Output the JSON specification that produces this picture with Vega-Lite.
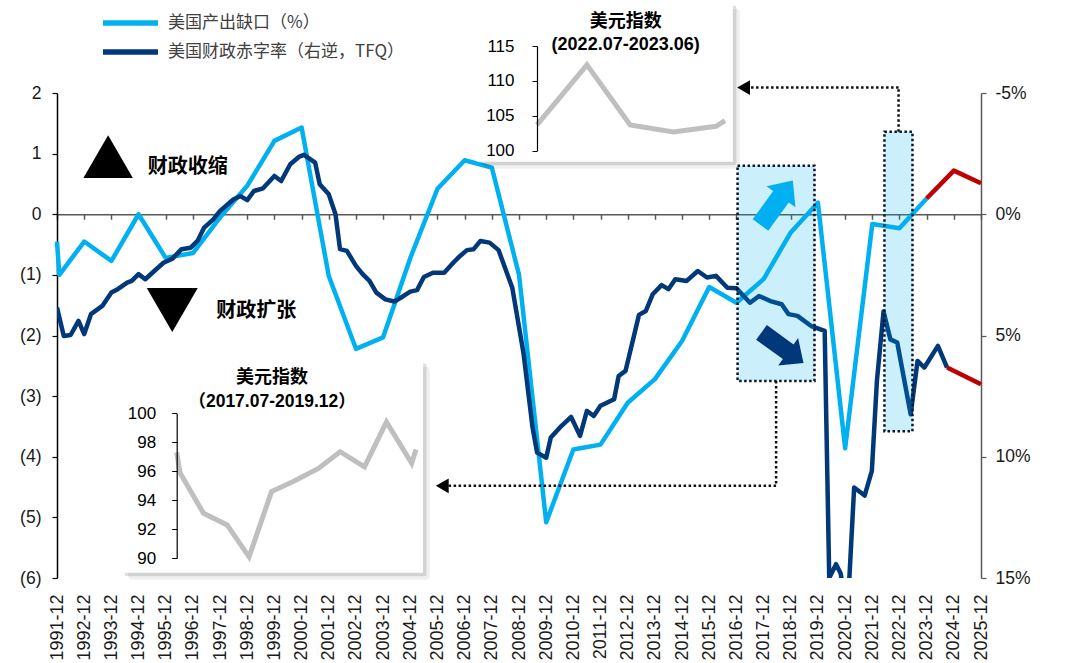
{
  "$schema": "https://vega.github.io/schema/vega-lite/v6.json",
  "width": 924,
  "height": 485,
  "autosize": {"type": "none"},
  "padding": {"left": 57, "top": 93, "right": 87, "bottom": 85},
  "background": "white",
  "config": {
    "view": {"stroke": null},
    "axis": {"grid": false, "labelFont": "Liberation Sans", "labelColor": "#1a1a1a", "title": null, "labelOverlap": false},
    "legend": {"labelFont": "Noto Sans CJK SC"}
  },
  "datasets": {
    "gap": [
      {"date": "1991-12-01", "value": -0.45, "series": "美国产出缺口（%）", "part": "actual"},
      {"date": "1992-01-01", "value": -1.0, "series": "美国产出缺口（%）", "part": "actual"},
      {"date": "1992-12-01", "value": -0.45, "series": "美国产出缺口（%）", "part": "actual"},
      {"date": "1993-12-01", "value": -0.77, "series": "美国产出缺口（%）", "part": "actual"},
      {"date": "1994-12-01", "value": 0.0, "series": "美国产出缺口（%）", "part": "actual"},
      {"date": "1995-12-01", "value": -0.72, "series": "美国产出缺口（%）", "part": "actual"},
      {"date": "1996-12-01", "value": -0.64, "series": "美国产出缺口（%）", "part": "actual"},
      {"date": "1997-12-01", "value": -0.05, "series": "美国产出缺口（%）", "part": "actual"},
      {"date": "1998-12-01", "value": 0.47, "series": "美国产出缺口（%）", "part": "actual"},
      {"date": "1999-12-01", "value": 1.21, "series": "美国产出缺口（%）", "part": "actual"},
      {"date": "2000-12-01", "value": 1.43, "series": "美国产出缺口（%）", "part": "actual"},
      {"date": "2001-12-01", "value": -1.02, "series": "美国产出缺口（%）", "part": "actual"},
      {"date": "2002-12-01", "value": -2.22, "series": "美国产出缺口（%）", "part": "actual"},
      {"date": "2003-12-01", "value": -2.03, "series": "美国产出缺口（%）", "part": "actual"},
      {"date": "2004-12-01", "value": -0.72, "series": "美国产出缺口（%）", "part": "actual"},
      {"date": "2005-12-01", "value": 0.42, "series": "美国产出缺口（%）", "part": "actual"},
      {"date": "2006-12-01", "value": 0.89, "series": "美国产出缺口（%）", "part": "actual"},
      {"date": "2007-12-01", "value": 0.77, "series": "美国产出缺口（%）", "part": "actual"},
      {"date": "2008-12-01", "value": -1.0, "series": "美国产出缺口（%）", "part": "actual"},
      {"date": "2009-12-01", "value": -5.08, "series": "美国产出缺口（%）", "part": "actual"},
      {"date": "2010-12-01", "value": -3.88, "series": "美国产出缺口（%）", "part": "actual"},
      {"date": "2011-12-01", "value": -3.8, "series": "美国产出缺口（%）", "part": "actual"},
      {"date": "2012-12-01", "value": -3.11, "series": "美国产出缺口（%）", "part": "actual"},
      {"date": "2013-12-01", "value": -2.72, "series": "美国产出缺口（%）", "part": "actual"},
      {"date": "2014-12-01", "value": -2.09, "series": "美国产出缺口（%）", "part": "actual"},
      {"date": "2015-12-01", "value": -1.2, "series": "美国产出缺口（%）", "part": "actual"},
      {"date": "2016-12-01", "value": -1.46, "series": "美国产出缺口（%）", "part": "actual"},
      {"date": "2017-12-01", "value": -1.07, "series": "美国产出缺口（%）", "part": "actual"},
      {"date": "2018-12-01", "value": -0.3, "series": "美国产出缺口（%）", "part": "actual"},
      {"date": "2019-12-01", "value": 0.19, "series": "美国产出缺口（%）", "part": "actual"},
      {"date": "2020-12-01", "value": -3.86, "series": "美国产出缺口（%）", "part": "actual"},
      {"date": "2021-12-01", "value": -0.16, "series": "美国产出缺口（%）", "part": "actual"},
      {"date": "2022-12-01", "value": -0.23, "series": "美国产出缺口（%）", "part": "actual"},
      {"date": "2023-12-01", "value": 0.26, "series": "美国产出缺口（%）", "part": "actual"},
      {"date": "2023-12-01", "value": 0.26, "series": "美国产出缺口（%）", "part": "forecast"},
      {"date": "2024-12-01", "value": 0.72, "series": "美国产出缺口（%）", "part": "forecast"},
      {"date": "2025-12-01", "value": 0.51, "series": "美国产出缺口（%）", "part": "forecast"}
    ],
    "deficit": [
      {"date": "1991-12-01", "value": 3.85, "series": "美国财政赤字率（右逆，TFQ）", "part": "actual"},
      {"date": "1992-03-01", "value": 5.02, "series": "美国财政赤字率（右逆，TFQ）", "part": "actual"},
      {"date": "1992-06-01", "value": 4.98, "series": "美国财政赤字率（右逆，TFQ）", "part": "actual"},
      {"date": "1992-09-15", "value": 4.4, "series": "美国财政赤字率（右逆，TFQ）", "part": "actual"},
      {"date": "1992-12-01", "value": 4.94, "series": "美国财政赤字率（右逆，TFQ）", "part": "actual"},
      {"date": "1993-03-01", "value": 4.12, "series": "美国财政赤字率（右逆，TFQ）", "part": "actual"},
      {"date": "1993-08-01", "value": 3.78, "series": "美国财政赤字率（右逆，TFQ）", "part": "actual"},
      {"date": "1993-12-01", "value": 3.23, "series": "美国财政赤字率（右逆，TFQ）", "part": "actual"},
      {"date": "1994-03-01", "value": 3.08, "series": "美国财政赤字率（右逆，TFQ）", "part": "actual"},
      {"date": "1994-07-01", "value": 2.82, "series": "美国财政赤字率（右逆，TFQ）", "part": "actual"},
      {"date": "1994-09-01", "value": 2.75, "series": "美国财政赤字率（右逆，TFQ）", "part": "actual"},
      {"date": "1994-12-01", "value": 2.47, "series": "美国财政赤字率（右逆，TFQ）", "part": "actual"},
      {"date": "1995-03-01", "value": 2.68, "series": "美国财政赤字率（右逆，TFQ）", "part": "actual"},
      {"date": "1995-07-01", "value": 2.34, "series": "美国财政赤字率（右逆，TFQ）", "part": "actual"},
      {"date": "1995-11-01", "value": 2.0, "series": "美国财政赤字率（右逆，TFQ）", "part": "actual"},
      {"date": "1996-03-01", "value": 1.83, "series": "美国财政赤字率（右逆，TFQ）", "part": "actual"},
      {"date": "1996-07-01", "value": 1.44, "series": "美国财政赤字率（右逆，TFQ）", "part": "actual"},
      {"date": "1996-11-01", "value": 1.38, "series": "美国财政赤字率（右逆，TFQ）", "part": "actual"},
      {"date": "1997-02-01", "value": 1.1, "series": "美国财政赤字率（右逆，TFQ）", "part": "actual"},
      {"date": "1997-05-01", "value": 0.55, "series": "美国财政赤字率（右逆，TFQ）", "part": "actual"},
      {"date": "1997-09-01", "value": 0.21, "series": "美国财政赤字率（右逆，TFQ）", "part": "actual"},
      {"date": "1997-12-01", "value": -0.14, "series": "美国财政赤字率（右逆，TFQ）", "part": "actual"},
      {"date": "1998-06-01", "value": -0.62, "series": "美国财政赤字率（右逆，TFQ）", "part": "actual"},
      {"date": "1998-09-01", "value": -0.75, "series": "美国财政赤字率（右逆，TFQ）", "part": "actual"},
      {"date": "1998-12-01", "value": -0.58, "series": "美国财政赤字率（右逆，TFQ）", "part": "actual"},
      {"date": "1999-03-01", "value": -0.96, "series": "美国财政赤字率（右逆，TFQ）", "part": "actual"},
      {"date": "1999-07-01", "value": -1.07, "series": "美国财政赤字率（右逆，TFQ）", "part": "actual"},
      {"date": "1999-12-01", "value": -1.58, "series": "美国财政赤字率（右逆，TFQ）", "part": "actual"},
      {"date": "2000-03-01", "value": -1.37, "series": "美国财政赤字率（右逆，TFQ）", "part": "actual"},
      {"date": "2000-07-01", "value": -2.06, "series": "美国财政赤字率（右逆，TFQ）", "part": "actual"},
      {"date": "2000-11-01", "value": -2.38, "series": "美国财政赤字率（右逆，TFQ）", "part": "actual"},
      {"date": "2001-01-01", "value": -2.45, "series": "美国财政赤字率（右逆，TFQ）", "part": "actual"},
      {"date": "2001-06-01", "value": -2.13, "series": "美国财政赤字率（右逆，TFQ）", "part": "actual"},
      {"date": "2001-08-01", "value": -1.24, "series": "美国财政赤字率（右逆，TFQ）", "part": "actual"},
      {"date": "2001-12-01", "value": -0.82, "series": "美国财政赤字率（右逆，TFQ）", "part": "actual"},
      {"date": "2002-03-01", "value": 0.0, "series": "美国财政赤字率（右逆，TFQ）", "part": "actual"},
      {"date": "2002-05-01", "value": 1.44, "series": "美国财政赤字率（右逆，TFQ）", "part": "actual"},
      {"date": "2002-08-01", "value": 1.51, "series": "美国财政赤字率（右逆，TFQ）", "part": "actual"},
      {"date": "2002-12-01", "value": 2.13, "series": "美国财政赤字率（右逆，TFQ）", "part": "actual"},
      {"date": "2003-03-01", "value": 2.47, "series": "美国财政赤字率（右逆，TFQ）", "part": "actual"},
      {"date": "2003-06-01", "value": 2.75, "series": "美国财政赤字率（右逆，TFQ）", "part": "actual"},
      {"date": "2003-09-01", "value": 3.23, "series": "美国财政赤字率（右逆，TFQ）", "part": "actual"},
      {"date": "2004-01-01", "value": 3.51, "series": "美国财政赤字率（右逆，TFQ）", "part": "actual"},
      {"date": "2004-05-01", "value": 3.6, "series": "美国财政赤字率（右逆，TFQ）", "part": "actual"},
      {"date": "2004-09-01", "value": 3.37, "series": "美国财政赤字率（右逆，TFQ）", "part": "actual"},
      {"date": "2004-12-01", "value": 3.19, "series": "美国财政赤字率（右逆，TFQ）", "part": "actual"},
      {"date": "2005-03-01", "value": 3.13, "series": "美国财政赤字率（右逆，TFQ）", "part": "actual"},
      {"date": "2005-06-01", "value": 2.59, "series": "美国财政赤字率（右逆，TFQ）", "part": "actual"},
      {"date": "2005-10-01", "value": 2.41, "series": "美国财政赤字率（右逆，TFQ）", "part": "actual"},
      {"date": "2006-03-01", "value": 2.41, "series": "美国财政赤字率（右逆，TFQ）", "part": "actual"},
      {"date": "2006-07-01", "value": 2.0, "series": "美国财政赤字率（右逆，TFQ）", "part": "actual"},
      {"date": "2006-10-01", "value": 1.72, "series": "美国财政赤字率（右逆，TFQ）", "part": "actual"},
      {"date": "2007-01-01", "value": 1.48, "series": "美国财政赤字率（右逆，TFQ）", "part": "actual"},
      {"date": "2007-04-01", "value": 1.44, "series": "美国财政赤字率（右逆，TFQ）", "part": "actual"},
      {"date": "2007-07-01", "value": 1.1, "series": "美国财政赤字率（右逆，TFQ）", "part": "actual"},
      {"date": "2007-11-01", "value": 1.17, "series": "美国财政赤字率（右逆，TFQ）", "part": "actual"},
      {"date": "2008-03-01", "value": 1.48, "series": "美国财政赤字率（右逆，TFQ）", "part": "actual"},
      {"date": "2008-09-01", "value": 3.03, "series": "美国财政赤字率（右逆，TFQ）", "part": "actual"},
      {"date": "2009-02-01", "value": 5.77, "series": "美国财政赤字率（右逆，TFQ）", "part": "actual"},
      {"date": "2009-06-01", "value": 8.8, "series": "美国财政赤字率（右逆，TFQ）", "part": "actual"},
      {"date": "2009-08-01", "value": 9.83, "series": "美国财政赤字率（右逆，TFQ）", "part": "actual"},
      {"date": "2009-12-01", "value": 10.04, "series": "美国财政赤字率（右逆，TFQ）", "part": "actual"},
      {"date": "2010-02-01", "value": 9.21, "series": "美国财政赤字率（右逆，TFQ）", "part": "actual"},
      {"date": "2010-06-01", "value": 8.8, "series": "美国财政赤字率（右逆，TFQ）", "part": "actual"},
      {"date": "2010-11-01", "value": 8.36, "series": "美国财政赤字率（右逆，TFQ）", "part": "actual"},
      {"date": "2011-03-01", "value": 9.14, "series": "美国财政赤字率（右逆，TFQ）", "part": "actual"},
      {"date": "2011-06-01", "value": 8.11, "series": "美国财政赤字率（右逆，TFQ）", "part": "actual"},
      {"date": "2011-09-01", "value": 8.32, "series": "美国财政赤字率（右逆，TFQ）", "part": "actual"},
      {"date": "2011-12-01", "value": 7.9, "series": "美国财政赤字率（右逆，TFQ）", "part": "actual"},
      {"date": "2012-06-01", "value": 7.63, "series": "美国财政赤字率（右逆，TFQ）", "part": "actual"},
      {"date": "2012-08-01", "value": 6.67, "series": "美国财政赤字率（右逆，TFQ）", "part": "actual"},
      {"date": "2012-11-01", "value": 6.46, "series": "美国财政赤字率（右逆，TFQ）", "part": "actual"},
      {"date": "2013-02-01", "value": 5.29, "series": "美国财政赤字率（右逆，TFQ）", "part": "actual"},
      {"date": "2013-05-01", "value": 4.15, "series": "美国财政赤字率（右逆，TFQ）", "part": "actual"},
      {"date": "2013-08-01", "value": 3.99, "series": "美国财政赤字率（右逆，TFQ）", "part": "actual"},
      {"date": "2013-11-01", "value": 3.3, "series": "美国财政赤字率（右逆，TFQ）", "part": "actual"},
      {"date": "2014-03-01", "value": 2.92, "series": "美国财政赤字率（右逆，TFQ）", "part": "actual"},
      {"date": "2014-06-01", "value": 3.09, "series": "美国财政赤字率（右逆，TFQ）", "part": "actual"},
      {"date": "2014-09-01", "value": 2.68, "series": "美国财政赤字率（右逆，TFQ）", "part": "actual"},
      {"date": "2015-02-01", "value": 2.75, "series": "美国财政赤字率（右逆，TFQ）", "part": "actual"},
      {"date": "2015-07-01", "value": 2.34, "series": "美国财政赤字率（右逆，TFQ）", "part": "actual"},
      {"date": "2015-11-01", "value": 2.61, "series": "美国财政赤字率（右逆，TFQ）", "part": "actual"},
      {"date": "2016-03-01", "value": 2.54, "series": "美国财政赤字率（右逆，TFQ）", "part": "actual"},
      {"date": "2016-08-01", "value": 3.03, "series": "美国财政赤字率（右逆，TFQ）", "part": "actual"},
      {"date": "2016-12-01", "value": 3.05, "series": "美国财政赤字率（右逆，TFQ）", "part": "actual"},
      {"date": "2017-06-01", "value": 3.65, "series": "美国财政赤字率（右逆，TFQ）", "part": "actual"},
      {"date": "2017-10-01", "value": 3.37, "series": "美国财政赤字率（右逆，TFQ）", "part": "actual"},
      {"date": "2018-03-01", "value": 3.58, "series": "美国财政赤字率（右逆，TFQ）", "part": "actual"},
      {"date": "2018-08-01", "value": 3.71, "series": "美国财政赤字率（右逆，TFQ）", "part": "actual"},
      {"date": "2018-11-01", "value": 4.12, "series": "美国财政赤字率（右逆，TFQ）", "part": "actual"},
      {"date": "2019-03-01", "value": 4.19, "series": "美国财政赤字率（右逆，TFQ）", "part": "actual"},
      {"date": "2019-09-01", "value": 4.61, "series": "美国财政赤字率（右逆，TFQ）", "part": "actual"},
      {"date": "2020-03-01", "value": 4.81, "series": "美国财政赤字率（右逆，TFQ）", "part": "actual"},
      {"date": "2020-05-01", "value": 15.0, "series": "美国财政赤字率（右逆，TFQ）", "part": "actual"},
      {"date": "2020-08-01", "value": 14.43, "series": "美国财政赤字率（右逆，TFQ）", "part": "actual"},
      {"date": "2020-10-01", "value": 14.8, "series": "美国财政赤字率（右逆，TFQ）", "part": "actual"},
      {"date": "2021-01-01", "value": 16.5, "series": "美国财政赤字率（右逆，TFQ）", "part": "actual"},
      {"date": "2021-04-01", "value": 11.27, "series": "美国财政赤字率（右逆，TFQ）", "part": "actual"},
      {"date": "2021-08-20", "value": 11.6, "series": "美国财政赤字率（右逆，TFQ）", "part": "actual"},
      {"date": "2021-11-25", "value": 10.58, "series": "美国财政赤字率（右逆，TFQ）", "part": "actual"},
      {"date": "2022-02-01", "value": 6.87, "series": "美国财政赤字率（右逆，TFQ）", "part": "actual"},
      {"date": "2022-05-01", "value": 4.01, "series": "美国财政赤字率（右逆，TFQ）", "part": "actual"},
      {"date": "2022-08-01", "value": 5.16, "series": "美国财政赤字率（右逆，TFQ）", "part": "actual"},
      {"date": "2022-11-01", "value": 5.29, "series": "美国财政赤字率（右逆，TFQ）", "part": "actual"},
      {"date": "2023-05-01", "value": 8.25, "series": "美国财政赤字率（右逆，TFQ）", "part": "actual"},
      {"date": "2023-08-01", "value": 6.05, "series": "美国财政赤字率（右逆，TFQ）", "part": "actual"},
      {"date": "2023-11-01", "value": 6.32, "series": "美国财政赤字率（右逆，TFQ）", "part": "actual"},
      {"date": "2024-05-01", "value": 5.43, "series": "美国财政赤字率（右逆，TFQ）", "part": "actual"},
      {"date": "2024-09-01", "value": 6.32, "series": "美国财政赤字率（右逆，TFQ）", "part": "actual"},
      {"date": "2024-09-01", "value": 6.32, "series": "美国财政赤字率（右逆，TFQ）", "part": "forecast"},
      {"date": "2025-12-01", "value": 7.01, "series": "美国财政赤字率（右逆，TFQ）", "part": "forecast"}
    ],
    "dxy_2017": [
      {"date": "2017-07-01", "value": 97.3},
      {"date": "2017-07-13", "value": 95.9},
      {"date": "2017-10-08", "value": 93.1},
      {"date": "2018-01-03", "value": 92.3},
      {"date": "2018-03-25", "value": 90.1},
      {"date": "2018-06-16", "value": 94.6},
      {"date": "2018-09-04", "value": 95.3},
      {"date": "2018-12-06", "value": 96.2},
      {"date": "2019-02-24", "value": 97.35},
      {"date": "2019-05-25", "value": 96.3},
      {"date": "2019-08-14", "value": 99.4},
      {"date": "2019-11-15", "value": 96.55},
      {"date": "2019-12-01", "value": 97.5}
    ],
    "dxy_2022": [
      {"date": "2022-07-01", "value": 103.7},
      {"date": "2022-09-28", "value": 112.3},
      {"date": "2022-12-14", "value": 103.7},
      {"date": "2023-03-01", "value": 102.7},
      {"date": "2023-05-16", "value": 103.5},
      {"date": "2023-06-01", "value": 104.3}
    ]
  },
  "layer": [
    {
      "data": {"name": "gap"},
      "layer": [
        {
          "transform": [{"filter": "datum.part === 'actual'"}],
          "mark": {"type": "line", "strokeWidth": 4.5, "strokeJoin": "round"},
          "encoding": {
            "x": {
              "field": "date", "type": "temporal",
              "scale": {"domain": [{"year": 1991, "month": 12, "date": 1}, {"year": 2025, "month": 12, "date": 1}]},
              "axis": {
                "orient": "bottom", "format": "%Y-%m", "labelAngle": 270, "labelFontSize": 18, "tickCount": 60,
                "labelPadding": 16, "domain": false, "ticks": false, "labelFlush": false, "labelBound": false, "labelOverlap": false,
                "values": [
                  {"year": 1991, "month": 12, "date": 1}, {"year": 1992, "month": 12, "date": 1}, {"year": 1993, "month": 12, "date": 1},
                  {"year": 1994, "month": 12, "date": 1}, {"year": 1995, "month": 12, "date": 1}, {"year": 1996, "month": 12, "date": 1},
                  {"year": 1997, "month": 12, "date": 1}, {"year": 1998, "month": 12, "date": 1}, {"year": 1999, "month": 12, "date": 1},
                  {"year": 2000, "month": 12, "date": 1}, {"year": 2001, "month": 12, "date": 1}, {"year": 2002, "month": 12, "date": 1},
                  {"year": 2003, "month": 12, "date": 1}, {"year": 2004, "month": 12, "date": 1}, {"year": 2005, "month": 12, "date": 1},
                  {"year": 2006, "month": 12, "date": 1}, {"year": 2007, "month": 12, "date": 1}, {"year": 2008, "month": 12, "date": 1},
                  {"year": 2009, "month": 12, "date": 1}, {"year": 2010, "month": 12, "date": 1}, {"year": 2011, "month": 12, "date": 1},
                  {"year": 2012, "month": 12, "date": 1}, {"year": 2013, "month": 12, "date": 1}, {"year": 2014, "month": 12, "date": 1},
                  {"year": 2015, "month": 12, "date": 1}, {"year": 2016, "month": 12, "date": 1}, {"year": 2017, "month": 12, "date": 1},
                  {"year": 2018, "month": 12, "date": 1}, {"year": 2019, "month": 12, "date": 1}, {"year": 2020, "month": 12, "date": 1},
                  {"year": 2021, "month": 12, "date": 1}, {"year": 2022, "month": 12, "date": 1}, {"year": 2023, "month": 12, "date": 1},
                  {"year": 2024, "month": 12, "date": 1}, {"year": 2025, "month": 12, "date": 1}
                ]
              }
            },
            "y": {
              "field": "value", "type": "quantitative",
              "scale": {"domain": [-6, 2], "nice": false, "zero": false},
              "axis": {
                "orient": "left", "values": [-6, -5, -4, -3, -2, -1, 0, 1, 2],
                "labelExpr": "datum.value < 0 ? '(' + abs(datum.value) + ')' : '' + datum.value",
                "labelFontSize": 17.5, "labelPadding": 11, "tickSize": 5, "tickColor": "#000", "domainColor": "#000", "domainWidth": 1.5, "tickWidth": 1.2
              }
            },
            "color": {
              "field": "series", "type": "nominal",
              "scale": {"domain": ["美国产出缺口（%）", "美国财政赤字率（右逆，TFQ）"], "range": ["#00B0F0", "#00387A"]},
              "legend": {
                "title": null, "orient": "none", "legendX": 43, "legendY": -84.5, "direction": "vertical",
                "symbolType": "stroke", "symbolSize": 3025, "symbolStrokeWidth": 5.5, "clipHeight": 29,
                "labelFontSize": 17, "labelColor": "#404040", "labelOffset": 7, "labelLimit": 500, "rowPadding": 0, "padding": 0
              }
            }
          }
        },
        {
          "transform": [{"filter": "datum.part === 'forecast'"}],
          "mark": {"type": "line", "strokeWidth": 4.5, "strokeJoin": "round", "color": "#C00000"},
          "encoding": {
            "x": {"field": "date", "type": "temporal"},
            "y": {"field": "value", "type": "quantitative"}
          }
        }
      ]
    },
    {
      "data": {"name": "deficit"},
      "layer": [
        {
          "transform": [{"filter": "datum.part === 'actual'"}],
          "mark": {"type": "line", "strokeWidth": 4.5, "strokeJoin": "round", "clip": true},
          "encoding": {
            "x": {
              "field": "date", "type": "temporal",
              "scale": {"domain": [{"year": 1991, "month": 12, "date": 1}, {"year": 2025, "month": 12, "date": 1}]},
              "axis": {
                "orient": "bottom", "offset": -363.75, "labels": false, "domain": true, "domainColor": "#595959", "domainWidth": 1.5,
                "ticks": true, "tickColor": "#595959", "tickSize": 5, "tickWidth": 1.5, "tickCount": 60,
                "values": [
                  {"year": 1991, "month": 12, "date": 1}, {"year": 1992, "month": 12, "date": 1}, {"year": 1993, "month": 12, "date": 1},
                  {"year": 1994, "month": 12, "date": 1}, {"year": 1995, "month": 12, "date": 1}, {"year": 1996, "month": 12, "date": 1},
                  {"year": 1997, "month": 12, "date": 1}, {"year": 1998, "month": 12, "date": 1}, {"year": 1999, "month": 12, "date": 1},
                  {"year": 2000, "month": 12, "date": 1}, {"year": 2001, "month": 12, "date": 1}, {"year": 2002, "month": 12, "date": 1},
                  {"year": 2003, "month": 12, "date": 1}, {"year": 2004, "month": 12, "date": 1}, {"year": 2005, "month": 12, "date": 1},
                  {"year": 2006, "month": 12, "date": 1}, {"year": 2007, "month": 12, "date": 1}, {"year": 2008, "month": 12, "date": 1},
                  {"year": 2009, "month": 12, "date": 1}, {"year": 2010, "month": 12, "date": 1}, {"year": 2011, "month": 12, "date": 1},
                  {"year": 2012, "month": 12, "date": 1}, {"year": 2013, "month": 12, "date": 1}, {"year": 2014, "month": 12, "date": 1},
                  {"year": 2015, "month": 12, "date": 1}, {"year": 2016, "month": 12, "date": 1}, {"year": 2017, "month": 12, "date": 1},
                  {"year": 2018, "month": 12, "date": 1}, {"year": 2019, "month": 12, "date": 1}, {"year": 2020, "month": 12, "date": 1},
                  {"year": 2021, "month": 12, "date": 1}, {"year": 2022, "month": 12, "date": 1}, {"year": 2023, "month": 12, "date": 1},
                  {"year": 2024, "month": 12, "date": 1}, {"year": 2025, "month": 12, "date": 1}
                ]
              }
            },
            "y": {
              "field": "value", "type": "quantitative",
              "scale": {"domain": [-5, 15], "reverse": true, "nice": false, "zero": false},
              "axis": {
                "orient": "right", "values": [-5, 0, 5, 10, 15], "labelExpr": "datum.value + '%'",
                "labelFontSize": 17.5, "labelPadding": 9, "tickSize": 5, "tickColor": "#595959", "domainColor": "#595959", "domainWidth": 1.5, "tickWidth": 1.2
              }
            },
            "color": {"field": "series", "type": "nominal"}
          }
        },
        {
          "transform": [{"filter": "datum.part === 'forecast'"}],
          "mark": {"type": "line", "strokeWidth": 4.5, "strokeJoin": "round", "color": "#C00000"},
          "encoding": {
            "x": {"field": "date", "type": "temporal"},
            "y": {"field": "value", "type": "quantitative"}
          }
        }
      ]
    },
    {
      "data": {"values": [{}]},
      "layer": [
        {
          "mark": {"type": "rect", "fill": "#00B0F0", "fillOpacity": 0.2, "stroke": "#0d1526", "strokeWidth": 2.5, "strokeDash": [2.5, 2.5]},
          "encoding": {
            "x": {"datum": {"year": 2016, "month": 12, "date": 16}, "type": "temporal",
                  "scale": {"domain": [{"year": 1991, "month": 12, "date": 1}, {"year": 2025, "month": 12, "date": 1}]}, "axis": null},
            "x2": {"datum": {"year": 2019, "month": 10, "date": 16}},
            "y": {"datum": 0.8, "type": "quantitative", "scale": {"domain": [-6, 2], "nice": false, "zero": false}, "axis": null},
            "y2": {"datum": -2.75}
          }
        },
        {
          "mark": {"type": "rect", "fill": "#00B0F0", "fillOpacity": 0.2, "stroke": "#0d1526", "strokeWidth": 2.5, "strokeDash": [2.5, 2.5]},
          "encoding": {
            "x": {"datum": {"year": 2022, "month": 5, "date": 13}, "type": "temporal"},
            "x2": {"datum": {"year": 2023, "month": 5, "date": 25}},
            "y": {"datum": 1.36, "type": "quantitative"},
            "y2": {"datum": -3.58}
          }
        },
        {
          "mark": {"type": "point", "shape": "M0,-1L0.65,-0.27L0.35,-0.27L0.35,1L-0.35,1L-0.35,-0.27L-0.65,-0.27Z",
                   "filled": true, "opacity": 1, "strokeWidth": 0, "size": 3025, "angle": 36, "color": "#00B0F0"},
          "encoding": {
            "x": {"datum": {"year": 2018, "month": 5, "date": 25}, "type": "temporal"},
            "y": {"datum": 0.19, "type": "quantitative"}
          }
        },
        {
          "mark": {"type": "point", "shape": "M0,-1L0.65,-0.27L0.35,-0.27L0.35,1L-0.35,1L-0.35,-0.27L-0.65,-0.27Z",
                   "filled": true, "opacity": 1, "strokeWidth": 0, "size": 2700, "angle": 126, "color": "#00387A"},
          "encoding": {
            "x": {"datum": {"year": 2018, "month": 8, "date": 12}, "type": "temporal"},
            "y": {"datum": -2.2, "type": "quantitative"}
          }
        },
        {
          "mark": {"type": "point", "shape": "triangle-up", "filled": true, "opacity": 1, "strokeWidth": 0, "size": 2450, "color": "#000000"},
          "encoding": {
            "x": {"datum": {"year": 1993, "month": 10, "date": 18}, "type": "temporal"},
            "y": {"datum": 0.95, "type": "quantitative"}
          }
        },
        {
          "mark": {"type": "point", "shape": "triangle-down", "filled": true, "opacity": 1, "strokeWidth": 0, "size": 2600, "color": "#000000"},
          "encoding": {
            "x": {"datum": {"year": 1996, "month": 2, "date": 27}, "type": "temporal"},
            "y": {"datum": -1.58, "type": "quantitative"}
          }
        },
        {
          "mark": {"type": "text", "text": "财政收缩", "align": "left", "baseline": "middle", "font": "Noto Sans CJK SC", "fontSize": 20, "fontWeight": "bold", "color": "#000000"},
          "encoding": {
            "x": {"datum": {"year": 1995, "month": 4, "date": 4}, "type": "temporal"},
            "y": {"datum": 0.78, "type": "quantitative"}
          }
        },
        {
          "mark": {"type": "text", "text": "财政扩张", "align": "left", "baseline": "middle", "font": "Noto Sans CJK SC", "fontSize": 20, "fontWeight": "bold", "color": "#000000"},
          "encoding": {
            "x": {"datum": {"year": 1997, "month": 10, "date": 12}, "type": "temporal"},
            "y": {"datum": -1.6, "type": "quantitative"}
          }
        },
        {
          "mark": {"type": "rule", "color": "#111111", "strokeWidth": 2.5, "strokeDash": [2.5, 2.5]},
          "encoding": {
            "x": {"datum": {"year": 2022, "month": 11, "date": 19}, "type": "temporal"},
            "y": {"datum": 1.36, "type": "quantitative"},
            "y2": {"datum": 2.09}
          }
        },
        {
          "mark": {"type": "rule", "color": "#111111", "strokeWidth": 2.5, "strokeDash": [2.5, 2.5]},
          "encoding": {
            "x": {"datum": {"year": 2022, "month": 11, "date": 19}, "type": "temporal"},
            "x2": {"datum": {"year": 2017, "month": 3, "date": 19}},
            "y": {"datum": 2.09, "type": "quantitative"}
          }
        },
        {
          "mark": {"type": "point", "shape": "triangle-left", "filled": true, "opacity": 1, "strokeWidth": 0, "size": 220, "color": "#000000"},
          "encoding": {
            "x": {"datum": {"year": 2017, "month": 3, "date": 7}, "type": "temporal"},
            "y": {"datum": 2.09, "type": "quantitative"}
          }
        },
        {
          "mark": {"type": "rule", "color": "#111111", "strokeWidth": 2.5, "strokeDash": [2.5, 2.5]},
          "encoding": {
            "x": {"datum": {"year": 2018, "month": 5, "date": 18}, "type": "temporal"},
            "y": {"datum": -2.75, "type": "quantitative"},
            "y2": {"datum": -4.48}
          }
        },
        {
          "mark": {"type": "rule", "color": "#111111", "strokeWidth": 2.5, "strokeDash": [2.5, 2.5]},
          "encoding": {
            "x": {"datum": {"year": 2018, "month": 5, "date": 18}, "type": "temporal"},
            "x2": {"datum": {"year": 2006, "month": 4, "date": 15}},
            "y": {"datum": -4.48, "type": "quantitative"}
          }
        },
        {
          "mark": {"type": "point", "shape": "triangle-left", "filled": true, "opacity": 1, "strokeWidth": 0, "size": 220, "color": "#000000"},
          "encoding": {
            "x": {"datum": {"year": 2006, "month": 2, "date": 3}, "type": "temporal"},
            "y": {"datum": -4.48, "type": "quantitative"}
          }
        }
      ]
    },
    {
      "layer": [
        {
          "data": {"values": [{}]},
          "mark": {"type": "rect", "color": "#000000", "opacity": 0.06, "xOffset": 7, "x2Offset": 7, "yOffset": 7, "y2Offset": 7, "cornerRadius": 4},
          "encoding": {
            "x": {"datum": {"year": 2016, "month": 12, "date": 8}, "type": "temporal",
                  "scale": {"domain": [{"year": 2017, "month": 7, "date": 1}, {"year": 2019, "month": 12, "date": 1}], "range": [119.7, 359]}, "axis": null},
            "x2": {"datum": {"year": 2019, "month": 12, "date": 27}},
            "y": {"datum": 103.68, "type": "quantitative", "scale": {"domain": [90, 100], "range": [465.3, 320.3], "nice": false, "zero": false},
                  "axis": {"orient": "left", "offset": -119.7, "zindex": 2, "values": [90, 92, 94, 96, 98, 100], "labelFontSize": 17, "labelPadding": 16,
                           "tickSize": 5, "tickColor": "#000", "domainColor": "#000", "domainWidth": 1.2, "labelColor": "#000"}},
            "y2": {"datum": 89.0}
          }
        },
        {
          "data": {"values": [{}]},
          "mark": {"type": "rect", "color": "#000000", "opacity": 0.12, "xOffset": 3.5, "x2Offset": 3.5, "yOffset": 3.5, "y2Offset": 3.5, "cornerRadius": 2},
          "encoding": {
            "x": {"datum": {"year": 2016, "month": 12, "date": 8}, "type": "temporal"},
            "x2": {"datum": {"year": 2019, "month": 12, "date": 27}},
            "y": {"datum": 103.68, "type": "quantitative"},
            "y2": {"datum": 89.0}
          }
        },
        {
          "data": {"values": [{}]},
          "mark": {"type": "rect", "color": "#ffffff", "opacity": 1},
          "encoding": {
            "x": {"datum": {"year": 2016, "month": 12, "date": 8}, "type": "temporal"},
            "x2": {"datum": {"year": 2019, "month": 12, "date": 27}},
            "y": {"datum": 103.68, "type": "quantitative"},
            "y2": {"datum": 89.0}
          }
        },
        {
          "data": {"name": "dxy_2017"},
          "mark": {"type": "line", "color": "#BFBFBF", "strokeWidth": 5, "strokeJoin": "miter"},
          "encoding": {
            "x": {"field": "date", "type": "temporal"},
            "y": {"field": "value", "type": "quantitative"}
          }
        },
        {
          "data": {"values": [{}]},
          "mark": {"type": "text", "text": "美元指数", "align": "center", "baseline": "middle", "font": "Noto Sans CJK SC", "fontSize": 18, "fontWeight": "bold", "color": "#000000"},
          "encoding": {
            "x": {"datum": {"year": 2018, "month": 6, "date": 18}, "type": "temporal"},
            "y": {"datum": 102.43, "type": "quantitative"}
          }
        },
        {
          "data": {"values": [{}]},
          "mark": {"type": "text", "text": "（2017.07-2019.12）", "align": "center", "baseline": "middle", "font": "Liberation Sans, Noto Sans CJK SC", "fontSize": 17.5, "fontWeight": "bold", "color": "#000000"},
          "encoding": {
            "x": {"datum": {"year": 2018, "month": 6, "date": 18}, "type": "temporal"},
            "y": {"datum": 100.78, "type": "quantitative"}
          }
        }
      ]
    },
    {
      "layer": [
        {
          "data": {"values": [{}]},
          "mark": {"type": "rect", "color": "#000000", "opacity": 0.06, "xOffset": 7, "x2Offset": 7, "yOffset": 7, "y2Offset": 7, "cornerRadius": 4},
          "encoding": {
            "x": {"datum": {"year": 2022, "month": 3, "date": 17}, "type": "temporal",
                  "scale": {"domain": [{"year": 2022, "month": 7, "date": 1}, {"year": 2023, "month": 6, "date": 1}], "range": [480, 668]}, "axis": null},
            "x2": {"datum": {"year": 2023, "month": 6, "date": 15}},
            "y": {"datum": 121.3, "type": "quantitative", "scale": {"domain": [100, 115], "range": [57.7, -47], "nice": false, "zero": false},
                  "axis": {"orient": "left", "offset": -480, "zindex": 2, "values": [100, 105, 110, 115], "labelFontSize": 17, "labelPadding": 18,
                           "tickSize": 5, "tickColor": "#000", "domainColor": "#000", "domainWidth": 1.2, "labelColor": "#000"}},
            "y2": {"datum": 98.42}
          }
        },
        {
          "data": {"values": [{}]},
          "mark": {"type": "rect", "color": "#000000", "opacity": 0.12, "xOffset": 3.5, "x2Offset": 3.5, "yOffset": 3.5, "y2Offset": 3.5, "cornerRadius": 2},
          "encoding": {
            "x": {"datum": {"year": 2022, "month": 3, "date": 17}, "type": "temporal"},
            "x2": {"datum": {"year": 2023, "month": 6, "date": 15}},
            "y": {"datum": 121.3, "type": "quantitative"},
            "y2": {"datum": 98.42}
          }
        },
        {
          "data": {"values": [{}]},
          "mark": {"type": "rect", "color": "#ffffff", "opacity": 1},
          "encoding": {
            "x": {"datum": {"year": 2022, "month": 3, "date": 17}, "type": "temporal"},
            "x2": {"datum": {"year": 2023, "month": 6, "date": 15}},
            "y": {"datum": 121.3, "type": "quantitative"},
            "y2": {"datum": 98.42}
          }
        },
        {
          "data": {"name": "dxy_2022"},
          "mark": {"type": "line", "color": "#BFBFBF", "strokeWidth": 5, "strokeJoin": "miter"},
          "encoding": {
            "x": {"field": "date", "type": "temporal"},
            "y": {"field": "value", "type": "quantitative"}
          }
        },
        {
          "data": {"values": [{}]},
          "mark": {"type": "text", "text": "美元指数", "align": "center", "baseline": "middle", "font": "Noto Sans CJK SC", "fontSize": 18, "fontWeight": "bold", "color": "#000000"},
          "encoding": {
            "x": {"datum": {"year": 2022, "month": 12, "date": 6}, "type": "temporal"},
            "y": {"datum": 118.44, "type": "quantitative"}
          }
        },
        {
          "data": {"values": [{}]},
          "mark": {"type": "text", "text": "(2022.07-2023.06)", "align": "center", "baseline": "middle", "font": "Liberation Sans", "fontSize": 18, "fontWeight": "bold", "color": "#000000"},
          "encoding": {
            "x": {"datum": {"year": 2022, "month": 12, "date": 6}, "type": "temporal"},
            "y": {"datum": 115.14, "type": "quantitative"}
          }
        }
      ]
    }
  ],
  "resolve": {
    "scale": {"x": "independent", "y": "independent"},
    "axis": {"x": "independent", "y": "independent"}
  }
}
